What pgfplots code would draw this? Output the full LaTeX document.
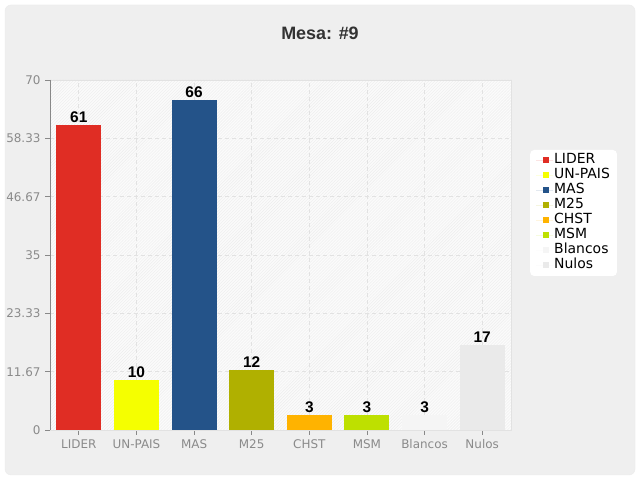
\documentclass[border=0pt]{standalone}
\usepackage{pgfplots}
\pgfplotsset{compat=1.18}
\usepackage{fontspec}
\setmainfont{DejaVu Sans}
\newfontfamily\lib{Liberation Sans}
\usetikzlibrary{patterns}

\definecolor{panel}{HTML}{EFEFEF}
\definecolor{plotbg}{HTML}{FBFBFB}
\definecolor{hatch}{HTML}{EDEDED}
\definecolor{gridc}{HTML}{E2E2E2}
\definecolor{axisc}{HTML}{888888}
\definecolor{tickc}{HTML}{8A8A8A}
\definecolor{titlec}{HTML}{333333}
\definecolor{lider}{HTML}{E02D24}
\definecolor{unpais}{HTML}{F5FF00}
\definecolor{mas}{HTML}{245389}
\definecolor{mtf}{HTML}{B0B000}
\definecolor{chst}{HTML}{FFB300}
\definecolor{msm}{HTML}{BEE000}
\definecolor{blancos}{HTML}{F5F5F5}
\definecolor{nulos}{HTML}{EAEAEA}

\begin{document}
\begin{tikzpicture}[x=1bp,y=1bp]
  % panel
  \fill[white] (0,0) rectangle (640,480);
  \fill[panel, draw=white!92!black, rounded corners=6bp] (5,5) rectangle (635,475);
  \node[font=\lib\bfseries\fontsize{18}{20}\selectfont, text=titlec] at (320,447) {Mesa: \#9};

  \begin{axis}[
      at={(50bp,50bp)}, anchor=south west,
      scale only axis,
      width=461bp, height=350bp,
      xmin=-0.5, xmax=7.5,
      ymin=0, ymax=70,
      ybar, bar width=0.78, bar shift=0pt,
      xtick={0,...,7},
      xticklabels={LIDER,UN-PAIS,MAS,M25,CHST,MSM,Blancos,Nulos},
      ytick={0,11.6667,23.3333,35,46.6667,58.3333,70},
      yticklabels={0,11.67,23.33,35,46.67,58.33,70},
      xtick pos=bottom, ytick pos=left,
      tick align=outside,
      major tick length=5bp,
      tick style={draw=axisc, line width=0.8bp},
      ticklabel style={font=\fontsize{12}{14}\selectfont, text=tickc},
      xticklabel style={yshift=-1bp},
      yticklabel style={xshift=-1bp},
      xmajorgrids, ymajorgrids,
      grid style={draw=gridc, dash pattern=on 4bp off 3bp, line width=0.8bp},
      axis line style={draw=gridc, line width=0.8bp},
      axis background/.style={fill=plotbg, postaction={pattern=north east lines, pattern color=hatch}},
      /pgf/number format/assume math mode=true,
      nodes near coords,
      every node near coord/.append style={font=\lib\bfseries\fontsize{15.5}{17}\selectfont, text=black, inner sep=2bp},
      legend style={
          at={(1,0.5)}, anchor=west, xshift=19bp, yshift=42bp,
          fill=white, draw=none, rounded corners=4bp,
          font=\fontsize{14}{15}\selectfont,
          row sep=0pt, inner xsep=6bp, inner ysep=3bp,
          nodes={text height=10bp, text depth=3bp, inner sep=1bp},
      },
      legend cell align=left,
      legend image code/.code={
          \path (0bp,0bp) -- (17bp,0bp);
          \fill[#1, sharp corners] (7bp,-3bp) rectangle (13bp,3bp);
      },
    ]
    \addplot[fill=lider, draw=none] coordinates {(0,61)};
    \addplot[fill=unpais, draw=none] coordinates {(1,10)};
    \addplot[fill=mas, draw=none] coordinates {(2,66)};
    \addplot[fill=mtf, draw=none] coordinates {(3,12)};
    \addplot[fill=chst, draw=none] coordinates {(4,3)};
    \addplot[fill=msm, draw=none] coordinates {(5,3)};
    \addplot[fill=blancos, draw=none] coordinates {(6,3)};
    \addplot[fill=nulos, draw=none] coordinates {(7,17)};
    \legend{LIDER,UN-PAIS,MAS,M25,CHST,MSM,Blancos,Nulos}
    \draw[axisc, line width=0.8bp] (rel axis cs:0,1) -- (rel axis cs:0,0) -- (rel axis cs:1,0);
  \end{axis}
\end{tikzpicture}
\end{document}
